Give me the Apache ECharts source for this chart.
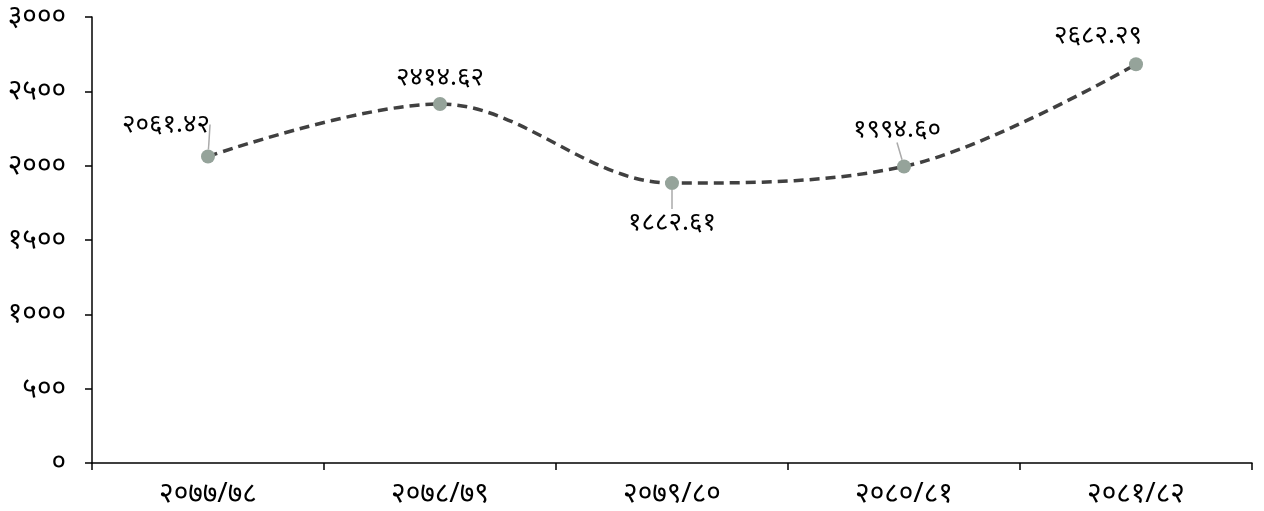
<!DOCTYPE html>
<html>
<head>
<meta charset="utf-8">
<script src="https://cdn.jsdelivr.net/npm/echarts@6/dist/echarts.min.js"></script>
<style>
html,body{margin:0;padding:0;background:#fff;}
#chart{width:1264px;height:511px;}
</style>
</head>
<body>
<div id="chart"></div>
<script>
const categories = ['२०७७/७८', '२०७८/७९', '२०७९/८०', '२०८०/८१', '२०८१/८२'];
const values = [2061.42, 2414.62, 1882.61, 1994.60, 2682.29];
const yTickLabels = ['०', '५००', '१०००', '१५००', '२०००', '२५००', '३०००'];
const labelShifts = [[-42, -8], [0, -2], [0, 15], [-7, -13], [-38, -5]];
const labelSides = ['top', 'top', 'bottom', 'top', 'top'];
const labelLinesOn = [true, false, true, true, false];

const devDigits = '०१२३४५६७८९';
function toDev(s) { return String(s).replace(/[0-9]/g, d => devDigits[+d]); }

const FONT = '"Noto Sans", sans-serif';
const AXFS = 28;
const LBFS = 26;
const chart = echarts.init(document.getElementById('chart'));
chart.setOption({
  animation: false,
  grid: { left: 92, right: 12, top: 17, bottom: 48 },
  xAxis: {
    type: 'category',
    data: categories,
    boundaryGap: true,
    axisLine: { lineStyle: { color: '#000', width: 1.5 } },
    axisTick: { show: true, length: 7, lineStyle: { color: '#000', width: 1.5 } },
    axisLabel: { color: '#000', fontSize: AXFS, fontFamily: FONT, margin: 17 }
  },
  yAxis: {
    type: 'value',
    min: 0, max: 3000, interval: 500,
    splitLine: { show: false },
    axisLine: { show: true, lineStyle: { color: '#000', width: 1.5 } },
    axisTick: { show: true, length: 7, lineStyle: { color: '#000', width: 1.5 } },
    axisLabel: {
      color: '#000', fontSize: AXFS, fontFamily: FONT, margin: 26,
      formatter: v => yTickLabels[Math.round(v / 500)]
    }
  },
  series: [{
    type: 'line',
    data: values.map((v, i) => ({
      value: v,
      label: { position: labelSides[i] },
      labelLine: { show: labelLinesOn[i] }
    })),
    smooth: 0.35,
    symbol: 'circle',
    symbolSize: 14,
    itemStyle: { color: '#95a39a' },
    lineStyle: { color: '#404040', width: 3.5, type: [10, 6] },
    label: {
      show: true,
      color: '#000',
      fontSize: LBFS,
      fontFamily: FONT,
      distance: 4,
      formatter: p => toDev(p.value.toFixed(2))
    },
    labelLine: { show: true, lineStyle: { color: '#aaaaaa', width: 1.5 } },
    labelLayout: p => ({ dx: labelShifts[p.dataIndex][0], dy: labelShifts[p.dataIndex][1] })
  }]
});
</script>
</body>
</html>
